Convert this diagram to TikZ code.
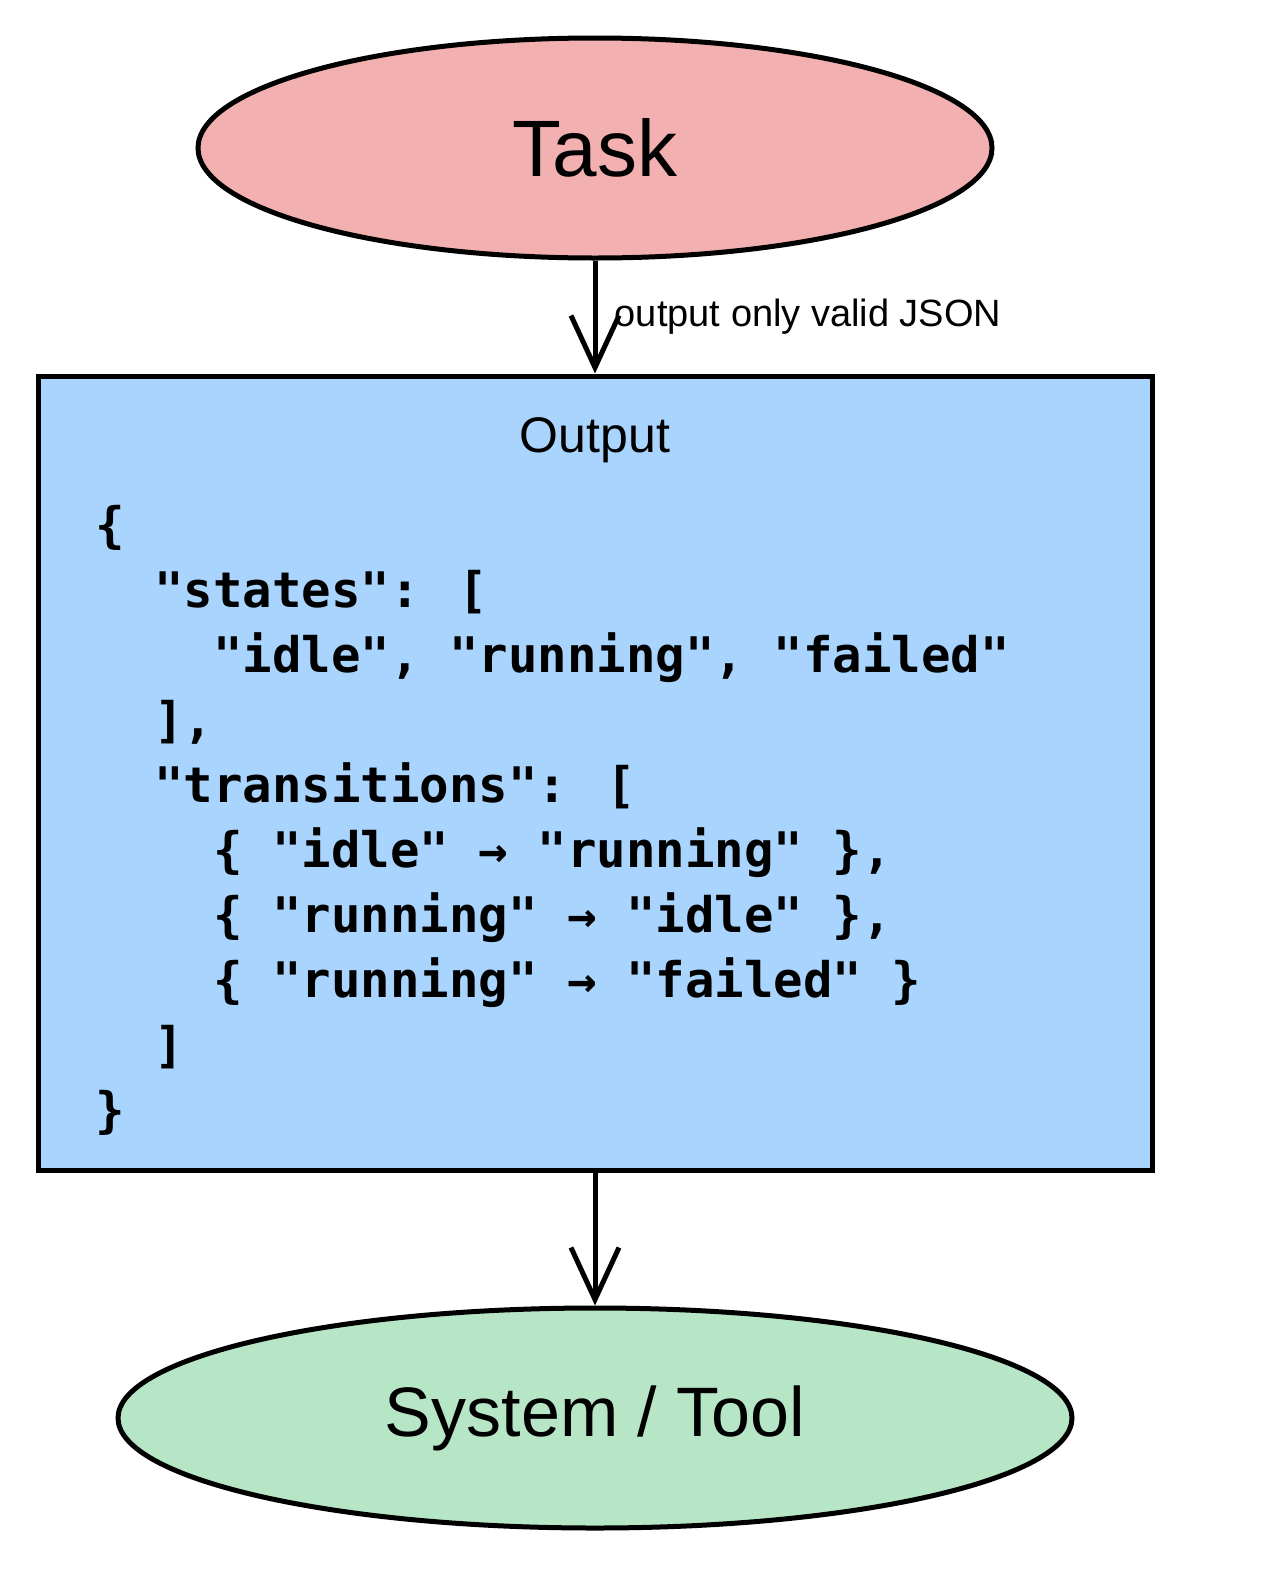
\documentclass[tikz,border=0pt]{standalone}
\usepackage{fontspec}
\setmainfont{Liberation Sans}
\newfontfamily\codefont{DejaVu Sans Mono}[BoldFont={DejaVu Sans Mono Bold}]
\usetikzlibrary{arrows.meta,shapes.geometric}
\begin{document}
\begin{tikzpicture}[x=1pt,y=-1pt,
  lw/.style={line width=5pt},
  conn/.style={lw,-{Straight Barb[length=52pt,width=48pt,line width=5pt]}},
  ell/.style={ellipse,draw,lw,inner sep=0pt}]
\useasboundingbox (0,0) rectangle (1280,1580);
\node[ell,fill={rgb,255:red,243;green,176;blue,176},minimum width=794pt,minimum height=220pt] (task) at (595,148) {\fontsize{80}{90}\selectfont Task};
\node[draw,lw,fill={rgb,255:red,168;green,212;blue,253},minimum width=1114pt,minimum height=794pt,inner sep=0pt] (out) at (595,773) {};
\node (title) at (595,440) {\fontsize{50}{60}\selectfont Output};
\node[anchor=north west,align=left,inner sep=0pt,font=\codefont\bfseries\fontsize{49}{65}\selectfont] (code) at (95,505) {%
\{\\
\ \ "states": [\\
\ \ \ \ "idle", "running", "failed"\\
\ \ ],\\
\ \ "transitions": [\\
\ \ \ \ \{ "idle" → "running" \},\\
\ \ \ \ \{ "running" → "idle" \},\\
\ \ \ \ \{ "running" → "failed" \}\\
\ \ ]\\
\}};
\node[ell,fill={rgb,255:red,183;green,230;blue,199},minimum width=954pt,minimum height=220pt] (sys) at (595,1418) {\fontsize{70}{80}\selectfont System / Tool};
\draw[conn] (task.south) -- node[right=14pt,font=\fontsize{38}{44}\selectfont]{output only valid JSON} (out.north);
\draw[conn] (out.south) -- (sys.north);
\end{tikzpicture}
\end{document}
